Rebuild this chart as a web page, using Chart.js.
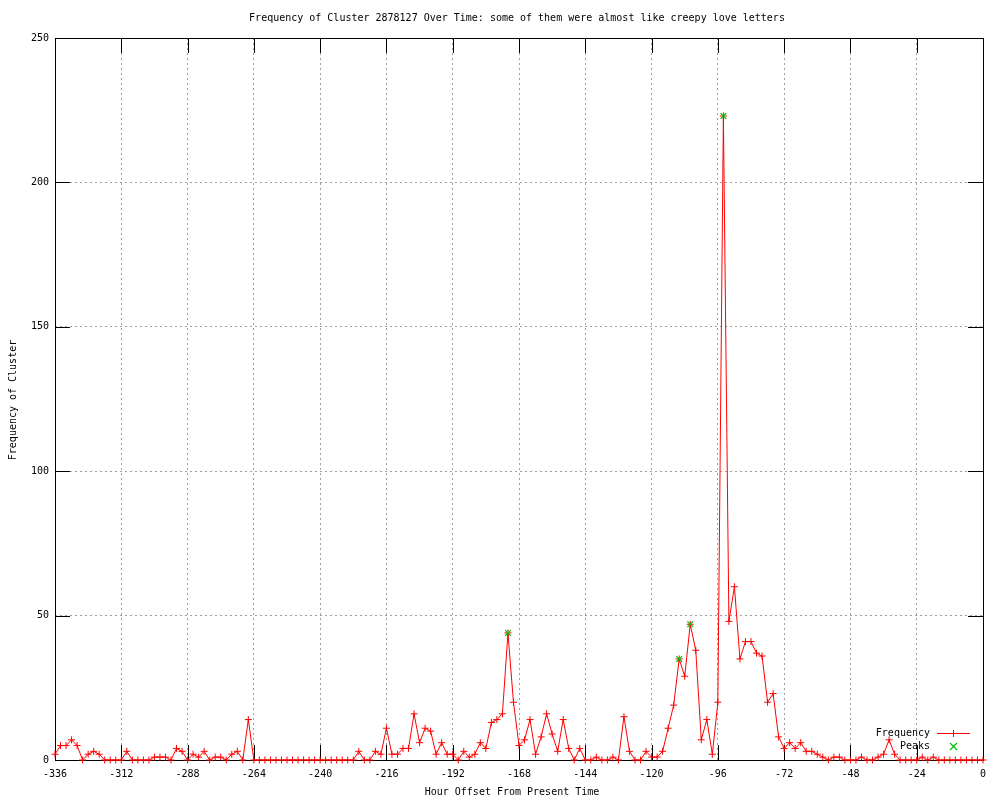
<!DOCTYPE html>
<html>
<head>
<meta charset="utf-8">
<script src="https://cdn.jsdelivr.net/npm/chart.js@4/dist/chart.umd.min.js"></script>
<style>
  html, body { margin: 0; padding: 0; background: #fff; }
  #chart { display: block; }
</style>
</head>
<body>
<canvas id="chart" width="1000" height="800"></canvas>
<script>
// Hour offsets (every 2 hours) and the cluster frequency at each one
const hours = [
  -336, -334, -332, -330, -328, -326, -324, -322, -320, -318, -316, -314, -312,
  -310, -308, -306, -304, -302, -300, -298, -296, -294, -292, -290, -288,
  -286, -284, -282, -280, -278, -276, -274, -272, -270, -268, -266, -264,
  -262, -260, -258, -256, -254, -252, -250, -248, -246, -244, -242, -240,
  -238, -236, -234, -232, -230, -228, -226, -224, -222, -220, -218, -216,
  -214, -212, -210, -208, -206, -204, -202, -200, -198, -196, -194, -192,
  -190, -188, -186, -184, -182, -180, -178, -176, -174, -172, -170, -168,
  -166, -164, -162, -160, -158, -156, -154, -152, -150, -148, -146, -144,
  -142, -140, -138, -136, -134, -132, -130, -128, -126, -124, -122, -120,
  -118, -116, -114, -112, -110, -108, -106, -104, -102, -100, -98, -96,
  -94, -92, -90, -88, -86, -84, -82, -80, -78, -76, -74, -72,
  -70, -68, -66, -64, -62, -60, -58, -56, -54, -52, -50, -48,
  -46, -44, -42, -40, -38, -36, -34, -32, -30, -28, -26, -24,
  -22, -20, -18, -16, -14, -12, -10, -8, -6, -4, -2, 0
];
const frequency = [
  2, 5, 5, 7, 5, 0, 2, 3, 2, 0, 0, 0, 0,
  3, 0, 0, 0, 0, 1, 1, 1, 0, 4, 3, 0,
  2, 1, 3, 0, 1, 1, 0, 2, 3, 0, 14, 0,
  0, 0, 0, 0, 0, 0, 0, 0, 0, 0, 0, 0,
  0, 0, 0, 0, 0, 0, 3, 0, 0, 3, 2, 11,
  2, 2, 4, 4, 16, 6, 11, 10, 2, 6, 2, 2,
  0, 3, 1, 2, 6, 4, 13, 14, 16, 44, 20, 5,
  7, 14, 2, 8, 16, 9, 3, 14, 4, 0, 4, 0,
  0, 1, 0, 0, 1, 0, 15, 3, 0, 0, 3, 1,
  1, 3, 11, 19, 35, 29, 47, 38, 7, 14, 2, 20,
  223, 48, 60, 35, 41, 41, 37, 36, 20, 23, 8, 4,
  6, 4, 6, 3, 3, 2, 1, 0, 1, 1, 0, 0,
  0, 1, 0, 0, 1, 2, 7, 2, 0, 0, 0, 0,
  1, 0, 1, 0, 0, 0, 0, 0, 0, 0, 0, 0
];
const peakHours = [-172, -110, -106, -94];
const peakValues = [44, 35, 47, 223];

const xTicks = [-336, -312, -288, -264, -240, -216, -192, -168, -144, -120, -96, -72, -48, -24, 0];
const yTicks = [0, 50, 100, 150, 200, 250];

const FAMILY = '"DejaVu Sans Mono", "Liberation Mono", monospace';
const FONT = '10px ' + FAMILY;
const RED = 'rgb(255, 0, 0)';
const GREEN = 'rgb(0, 192, 0)';

// gnuplot-like frame, inward ticks, titles and key
const gnuplotLook = {
  id: 'gnuplotLook',
  beforeDatasetsDraw(chart) {
    const {ctx, chartArea: a, scales: {x, y}} = chart;
    ctx.save();
    ctx.setLineDash([]);
    ctx.strokeStyle = '#000';
    ctx.lineWidth = 1;
    ctx.beginPath();
    const tl = 15;
    xTicks.forEach(v => {
      const px = Math.round(x.getPixelForValue(v)) + 0.5;
      ctx.moveTo(px, a.bottom); ctx.lineTo(px, a.bottom - tl);
      ctx.moveTo(px, a.top); ctx.lineTo(px, a.top + tl);
    });
    yTicks.forEach(v => {
      const py = Math.round(y.getPixelForValue(v)) + 0.5;
      ctx.moveTo(a.left, py); ctx.lineTo(a.left + tl, py);
      ctx.moveTo(a.right, py); ctx.lineTo(a.right - tl, py);
    });
    ctx.stroke();
    ctx.strokeRect(Math.round(a.left) + 0.5, Math.round(a.top) + 0.5,
      Math.round(a.right - a.left), Math.round(a.bottom - a.top));

    // titles
    ctx.fillStyle = '#000';
    ctx.font = FONT;
    ctx.textBaseline = 'middle';
    ctx.textAlign = 'center';
    ctx.fillText('Frequency of Cluster 2878127 Over Time: some of them were almost like creepy love letters', 517, 18);
    ctx.fillText('Hour Offset From Present Time', 512, 792);
    ctx.save();
    ctx.translate(13, 400);
    ctx.rotate(-Math.PI / 2);
    ctx.fillText('Frequency of Cluster', 0, 0);
    ctx.restore();

    // key, bottom right inside the plot
    ctx.textAlign = 'right';
    ctx.fillText('Frequency', 930, 733);
    ctx.fillText('Peaks', 930, 746);
    ctx.fillStyle = RED;
    ctx.fillRect(937, 733, 33, 1);
    ctx.fillRect(953, 730, 1, 7);
    ctx.strokeStyle = GREEN;
    ctx.lineWidth = 1.2;
    ctx.beginPath();
    ctx.moveTo(950, 743); ctx.lineTo(957, 750);
    ctx.moveTo(957, 743); ctx.lineTo(950, 750);
    ctx.stroke();
    ctx.restore();
  }
};

const ctx = document.getElementById('chart').getContext('2d');
const chart = new Chart(ctx, {
  type: 'line',
  data: {
    datasets: [{
      label: 'Frequency',
      data: hours.map((h, i) => ({x: h, y: frequency[i]})),
      borderColor: RED,
      borderWidth: 1,
      pointStyle: 'cross',
      pointRadius: 3.5,
      pointBorderColor: RED,
      pointBorderWidth: 1,
      pointHoverRadius: 3.5,
      tension: 0,
      fill: false,
      clip: false,
      order: 1
    }, {
      label: 'Peaks',
      data: peakHours.map((h, i) => ({x: h, y: peakValues[i]})),
      showLine: false,
      borderColor: GREEN,
      pointStyle: 'crossRot',
      pointRadius: 4,
      pointBorderColor: GREEN,
      pointBorderWidth: 1.2,
      clip: false,
      order: 0
    }]
  },
  options: {
    responsive: false,
    animation: false,
    events: [],
    layout: {padding: {top: 38, right: 17, left: 0, bottom: 0}},
    plugins: {
      legend: {display: false},
      tooltip: {enabled: false},
      title: {display: false}
    },
    scales: {
      x: {
        type: 'linear',
        min: -336,
        max: 0,
        afterFit(scale) { scale.height = 40; },
        afterBuildTicks(scale) { scale.ticks = xTicks.map(v => ({value: v})); },
        grid: {color: '#a0a0a0', drawTicks: false},
        border: {display: false, dash: [2, 3]},
        ticks: {
          color: '#000',
          font: {family: FAMILY, size: 10},
          padding: 8,
          maxRotation: 0,
          autoSkip: false
        }
      },
      y: {
        min: 0,
        max: 250,
        afterFit(scale) { scale.width = 55; },
        afterBuildTicks(scale) { scale.ticks = yTicks.map(v => ({value: v})); },
        grid: {color: '#a0a0a0', drawTicks: false},
        border: {display: false, dash: [2, 3]},
        ticks: {
          color: '#000',
          font: {family: FAMILY, size: 10},
          padding: 6
        }
      }
    }
  },
  plugins: [gnuplotLook]
});
</script>
</body>
</html>
